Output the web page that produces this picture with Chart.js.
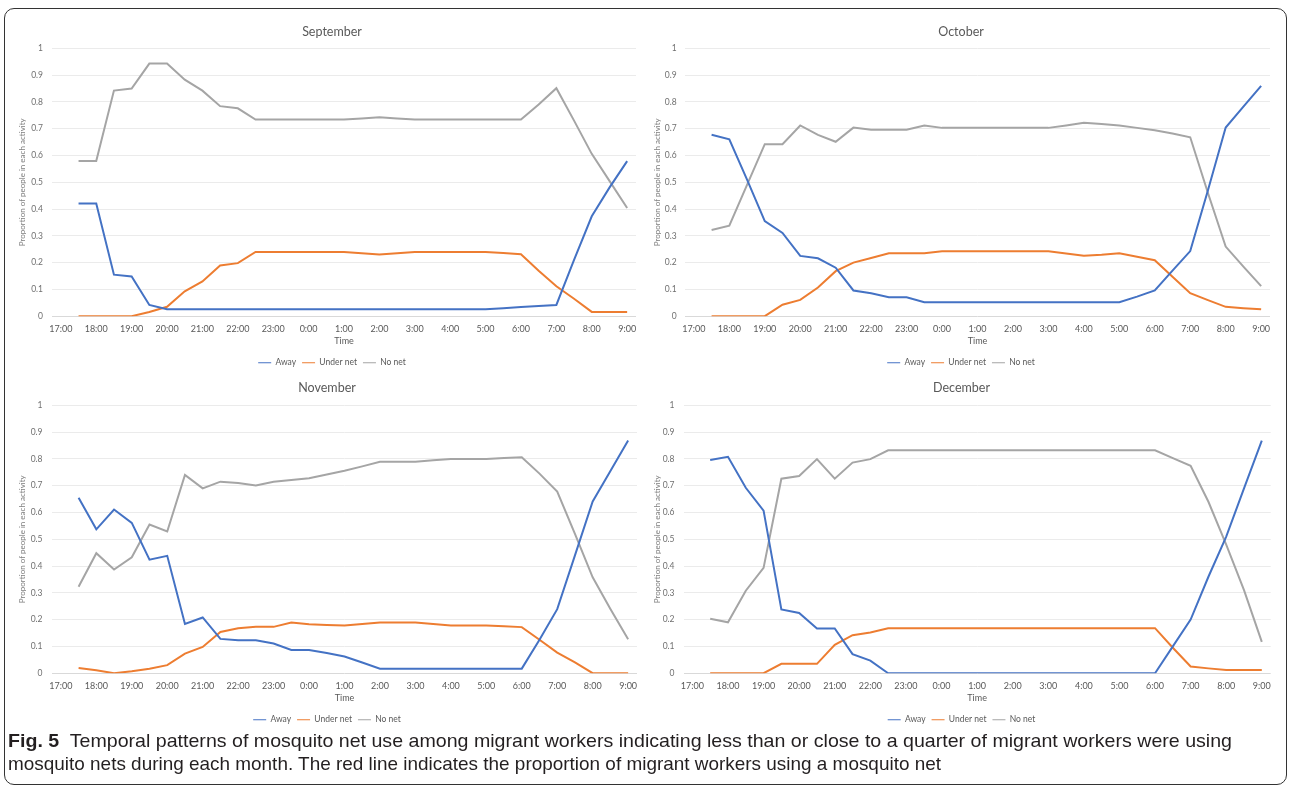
<!DOCTYPE html>
<html>
<head>
<meta charset="utf-8">
<script src="https://cdn.jsdelivr.net/npm/chart.js@4.4.1/dist/chart.umd.min.js"></script>
<style>
  html, body { margin: 0; padding: 0; background: #fff; }
  body { width: 1290px; height: 788px; position: relative; overflow: hidden; }
  .frame { position: absolute; left: 4px; top: 8px; width: 1283px; height: 777px; box-sizing: border-box;
           border: 1.5px solid #333; border-radius: 10px; }
  .panel { position: absolute; height: 365px; }
  .cap { position: absolute; left: 8px; white-space: nowrap; font-family: 'Liberation Sans Narrow', 'Liberation Sans', sans-serif;
         font-size: 19px; line-height: 22px; color: #231f20; transform-origin: left center; }
  .cap b { font-weight: bold; }
</style>
</head>
<body>
<div class="frame"></div>
<div class="panel" style="left:0px;top:12px;width:660px"><canvas id="sepChart"></canvas></div>
<div class="panel" style="left:650px;top:12px;width:640px"><canvas id="octChart"></canvas></div>
<div class="panel" style="left:0px;top:369px;width:660px"><canvas id="novChart"></canvas></div>
<div class="panel" style="left:650px;top:369px;width:640px"><canvas id="decChart"></canvas></div>
<div class="cap" data-w="1224" style="top:730px"><b>Fig. 5</b>&nbsp; Temporal patterns of mosquito net use among migrant workers indicating less than or close to a quarter of migrant workers were using</div>
<div class="cap" data-w="933" style="top:753px">mosquito nets during each month. The red line indicates the proportion of migrant workers using a mosquito net</div>
<script>
// half-hour categories, 17:00 has no data
const times = ['17:00','17:30','18:00','18:30','19:00','19:30','20:00','20:30','21:00','21:30','22:00','22:30',
  '23:00','23:30','0:00','0:30','1:00','1:30','2:00','2:30','3:00','3:30','4:00','4:30','5:00','5:30',
  '6:00','6:30','7:00','7:30','8:00','8:30','9:00'];

const sepAway = [null, 0.421, 0.421, 0.155, 0.148, 0.042, 0.026, 0.026, 0.026, 0.026, 0.026, 0.026, 0.026, 0.026,
  0.026, 0.026, 0.026, 0.026, 0.026, 0.026, 0.026, 0.026, 0.026, 0.026, 0.026, 0.030, 0.034, 0.038, 0.042,
  0.21, 0.373, 0.48, 0.579];
const sepUnder = [null, 0, 0, 0, 0, 0.016, 0.035, 0.093, 0.13, 0.189, 0.198, 0.24, 0.24, 0.24, 0.24, 0.24, 0.24,
  0.235, 0.23, 0.235, 0.24, 0.24, 0.24, 0.24, 0.24, 0.236, 0.231, 0.17, 0.112, 0.065, 0.016, 0.016, 0.016];
const sepNoNet = [null, 0.579, 0.579, 0.842, 0.85, 0.943, 0.943, 0.883, 0.842, 0.784, 0.776, 0.734, 0.734, 0.734,
  0.734, 0.734, 0.734, 0.738, 0.743, 0.738, 0.734, 0.734, 0.734, 0.734, 0.734, 0.734, 0.734, 0.79, 0.851,
  0.73, 0.606, 0.505, 0.404];

const octAway = [null, 0.677, 0.66, 0.51, 0.355, 0.311, 0.225, 0.216, 0.181, 0.096, 0.086, 0.071, 0.071, 0.052,
  0.052, 0.052, 0.052, 0.052, 0.052, 0.052, 0.052, 0.052, 0.052, 0.052, 0.052, 0.073, 0.096, 0.17, 0.243,
  0.47, 0.704, 0.782, 0.86];
const octUnder = [null, 0, 0, 0, 0, 0.043, 0.061, 0.107, 0.168, 0.2, 0.217, 0.235, 0.235, 0.235, 0.242, 0.242,
  0.242, 0.242, 0.242, 0.242, 0.242, 0.234, 0.226, 0.229, 0.235, 0.222, 0.209, 0.147, 0.086, 0.06, 0.035,
  0.03, 0.026];
const octNoNet = [null, 0.322, 0.338, 0.49, 0.642, 0.642, 0.712, 0.677, 0.651, 0.704, 0.696, 0.696, 0.696, 0.712,
  0.703, 0.703, 0.703, 0.703, 0.703, 0.703, 0.703, 0.712, 0.722, 0.717, 0.712, 0.703, 0.694, 0.682, 0.668,
  0.46, 0.26, 0.185, 0.112];

const novAway = [null, 0.655, 0.537, 0.611, 0.561, 0.424, 0.438, 0.184, 0.208, 0.128, 0.123, 0.123, 0.111, 0.087,
  0.087, 0.075, 0.062, 0.04, 0.017, 0.017, 0.017, 0.017, 0.017, 0.017, 0.017, 0.017, 0.017, 0.125, 0.239,
  0.44, 0.641, 0.755, 0.869];
const novUnder = [null, 0.019, 0.011, 0, 0.007, 0.017, 0.03, 0.073, 0.098, 0.154, 0.168, 0.173, 0.173, 0.189,
  0.183, 0.18, 0.178, 0.184, 0.189, 0.189, 0.189, 0.184, 0.178, 0.178, 0.178, 0.175, 0.172, 0.125, 0.077,
  0.04, 0, 0, 0];
const novNoNet = [null, 0.323, 0.448, 0.387, 0.433, 0.555, 0.529, 0.74, 0.69, 0.715, 0.71, 0.701, 0.715, 0.721,
  0.728, 0.742, 0.756, 0.772, 0.789, 0.789, 0.789, 0.795, 0.8, 0.8, 0.8, 0.803, 0.806, 0.745, 0.678,
  0.52, 0.358, 0.24, 0.127];

const decAway = [null, 0.796, 0.808, 0.692, 0.607, 0.238, 0.225, 0.167, 0.167, 0.071, 0.047, 0, 0, 0, 0, 0, 0,
  0, 0, 0, 0, 0, 0, 0, 0, 0, 0, 0.1, 0.2, 0.36, 0.51, 0.69, 0.868];
const decUnder = [null, 0, 0, 0, 0, 0.035, 0.035, 0.035, 0.106, 0.142, 0.152, 0.168, 0.168, 0.168, 0.168, 0.168,
  0.168, 0.168, 0.168, 0.168, 0.168, 0.168, 0.168, 0.168, 0.168, 0.168, 0.168, 0.095, 0.025, 0.018, 0.012,
  0.012, 0.012];
const decNoNet = [null, 0.203, 0.19, 0.308, 0.393, 0.726, 0.736, 0.799, 0.726, 0.786, 0.799, 0.832, 0.832, 0.832,
  0.832, 0.832, 0.832, 0.832, 0.832, 0.832, 0.832, 0.832, 0.832, 0.832, 0.832, 0.832, 0.832, 0.803, 0.774,
  0.64, 0.48, 0.31, 0.117];

const FONT = "Lato, 'Open Sans', sans-serif";

function makeChart(id, month, away, under, noNet, lay) {
  new Chart(document.getElementById(id), {
    type: 'line',
    data: {
      labels: times,
      datasets: [
        { label: 'Away', data: away, borderColor: '#4472C4', backgroundColor: '#4472C4' },
        { label: 'Under net', data: under, borderColor: '#ED7D31', backgroundColor: '#ED7D31' },
        { label: 'No net', data: noNet, borderColor: '#A5A5A5', backgroundColor: '#A5A5A5' }
      ]
    },
    options: {
      responsive: true,
      maintainAspectRatio: false,
      animation: false,
      elements: { point: { radius: 0 }, line: { borderWidth: 2, tension: 0 } },
      layout: { padding: { left: lay.padL, right: lay.padR, top: 0, bottom: 0 } },
      plugins: {
        title: {
          display: true, text: month, color: '#595959',
          font: { family: FONT, size: 12.5, weight: 'normal' },
          padding: { top: lay.tTop, bottom: lay.tBottom }
        },
        legend: {
          position: 'bottom',
          labels: {
            usePointStyle: true, pointStyle: 'line', pointStyleWidth: 13, padding: 6,
            color: '#595959', font: { family: FONT, size: 8.5 }
          }
        },
        tooltip: { enabled: false }
      },
      scales: {
        x: {
          offset: true,
          grid: { display: false, drawTicks: false },
          border: { display: false },
          ticks: {
            autoSkip: false, maxRotation: 0, padding: 7, color: '#595959',
            font: { family: FONT, size: 9 },
            callback: function (v, i) { return i % 2 === 0 ? this.getLabelForValue(v) : ''; }
          },
          title: { display: true, text: 'Time', color: '#595959', font: { family: FONT, size: 9 },
                   padding: { top: 0, bottom: 5.6 } },
          afterFit: s => { s.height = 36.3; }
        },
        y: {
          min: 0, max: 1,
          grid: { drawTicks: false, color: c => c.tick && c.tick.value === 0 ? '#d9d9d9' : '#ebebeb' },
          border: { display: false },
          ticks: {
            stepSize: 0.1, padding: lay.tickPad, color: '#707070', font: { family: FONT, size: 8.5 },
            callback: v => String(Number(v.toFixed(1)))
          },
          title: { display: true, text: 'Proportion of people in each activity', color: '#7f7f7f',
                   font: { family: FONT, size: 8 }, padding: { top: lay.yTitlePad, bottom: 0 } },
          afterFit: s => { s.width = lay.yWidth; }
        }
      }
    }
  });
}

makeChart('sepChart', 'September', sepAway, sepUnder, sepNoNet,
  { padL: 28, padR: 24, yWidth: 24, yTitlePad: -10.8, tickPad: 9, tTop: 12.8, tBottom: 8.5 });
makeChart('octChart', 'October', octAway, octUnder, octNoNet,
  { padL: 2, padR: 20, yWidth: 33, yTitlePad: 0.8, tickPad: 8.3, tTop: 12.8, tBottom: 8.5 });
makeChart('novChart', 'November', novAway, novUnder, novNoNet,
  { padL: 17, padR: 23, yWidth: 35, yTitlePad: 0.2, tickPad: 9.5, tTop: 11.1, tBottom: 10.2 });
makeChart('decChart', 'December', decAway, decUnder, decNoNet,
  { padL: 2.3, padR: 19.3, yWidth: 31.2, yTitlePad: 0, tickPad: 9, tTop: 11.1, tBottom: 10.2 });

// squeeze caption lines to the width they take in the figure
document.querySelectorAll('.cap').forEach(el => {
  const w = el.getBoundingClientRect().width;
  el.style.transform = 'scaleX(' + (Number(el.dataset.w) / w) + ')';
});
</script>
</body>
</html>
